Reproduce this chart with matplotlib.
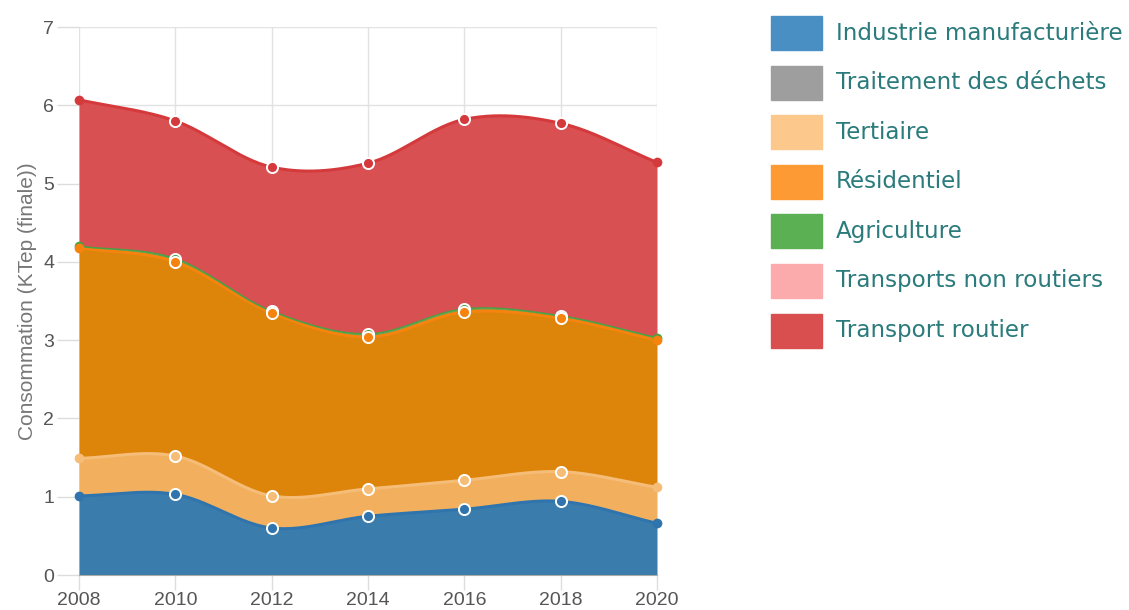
import numpy as np
import matplotlib.pyplot as plt
from matplotlib.patches import Rectangle

# Consommation d'énergie finale par secteur (KTep)
annees = [2008, 2010, 2012, 2014, 2016, 2018, 2020]
secteurs = ["Industrie manufacturière", "Traitement des déchets", "Tertiaire",
            "Résidentiel", "Agriculture", "Transports non routiers", "Transport routier"]
industrie = [1.01, 1.03, 0.60, 0.75, 0.84, 0.94, 0.66]
dechets = [0.0, 0.0, 0.0, 0.0, 0.0, 0.0, 0.0]
tertiaire = [0.48, 0.49, 0.41, 0.35, 0.37, 0.38, 0.46]
residentiel = [2.69, 2.48, 2.34, 1.94, 2.15, 1.96, 1.88]
agriculture = [0.02, 0.04, 0.02, 0.04, 0.04, 0.03, 0.03]
transports_nr = [0.0, 0.0, 0.0, 0.0, 0.0, 0.0, 0.0]
routier = [1.87, 1.76, 1.84, 2.18, 2.42, 2.46, 2.24]

fills = ["#3a7cab", "#999999", "#f2b05e", "#dd840b", "#5aae52", "#f7a8a8", "#d95052"]
lines = ["#2f74ad", "#8c8c8c", "#f5bd78", "#f7830f", "#4ea046", "#f59a9a", "#d43a3c"]
legend_cols = ["#4a8fc4", "#9e9e9e", "#fdc88b", "#fd9a33", "#5cb054", "#fbabab", "#d94f4f"]

plt.rcParams['font.family'] = ['Liberation Sans', 'DejaVu Sans']


def cardinal(x, y, n=30, tension=0.0):
    # spline cardinale (Catmull-Rom si tension = 0)
    x = np.asarray(x, float)
    y = np.asarray(y, float)
    m = np.zeros_like(y)
    m[1:-1] = (1 - tension) * (y[2:] - y[:-2]) / 2
    m[0] = (1 - tension) * (y[1] - y[0])
    m[-1] = (1 - tension) * (y[-1] - y[-2])
    xs, ys = [], []
    for i in range(len(x) - 1):
        t = np.linspace(0, 1, n, endpoint=(i == len(x) - 2))
        h00 = 2 * t**3 - 3 * t**2 + 1
        h10 = t**3 - 2 * t**2 + t
        h01 = -2 * t**3 + 3 * t**2
        h11 = t**3 - t**2
        xs.append(x[i] + t * (x[i + 1] - x[i]))
        ys.append(h00 * y[i] + h10 * m[i] + h01 * y[i + 1] + h11 * m[i + 1])
    return np.concatenate(xs), np.concatenate(ys)


fig = plt.figure(figsize=(11.29, 6.10), dpi=100)
ax = fig.add_axes([79 / 1129, 1 - 575 / 610, (657 - 79) / 1129, (575 - 27) / 610])

series = [industrie, dechets, tertiaire, residentiel, agriculture, transports_nr, routier]
cum = np.cumsum(np.array(series), axis=0)
base = np.zeros(len(annees))
for k in range(len(series)):
    xs, lo = cardinal(annees, base)
    _, hi = cardinal(annees, cum[k])
    ax.fill_between(xs, lo, hi, color=fills[k], lw=0, zorder=2 + k * 0.1)
    base = cum[k]

# lignes et points dessinés par-dessus les aires
# (les points de l'agriculture passent sous ceux du résidentiel)
for k in range(len(series)):
    if max(series[k]) == 0:
        continue
    xs, hi = cardinal(annees, cum[k])
    lw = 1.2 if k == 4 else 2.2
    zl = 4 + k * 0.1
    zm = 4.9 if k == 4 else 5 + k * 0.1
    ax.plot(xs, hi, color=lines[k], lw=lw, zorder=zl, solid_capstyle='round')
    ax.plot(annees[1:-1], cum[k][1:-1], 'o', ms=8, mfc=lines[k], mec='white', mew=1.4,
            zorder=zm)
    ax.plot([annees[0], annees[-1]], [cum[k][0], cum[k][-1]], 'o', ms=7, mfc=lines[k],
            mec=lines[k], mew=0, zorder=zm, clip_on=False)

ax.set_xlim(2008, 2020)
ax.set_ylim(0, 7)
ax.set_xticks(annees)
ax.set_yticks(range(8))
ax.grid(True, color='#e2e2e2', lw=1, zorder=0)
ax.set_axisbelow(True)
for s in ['top', 'right', 'left']:
    ax.spines[s].set_visible(False)
ax.spines['bottom'].set_color('#aaaaaa')
ax.tick_params(axis='both', colors='#dddddd', labelcolor='#555555', labelsize=14, width=1)
ax.tick_params(axis='x', length=11, pad=1)
ax.tick_params(axis='y', length=16, pad=2)
ax.set_ylabel("Consommation (KTep (finale))", color='#777777', fontsize=15, labelpad=4)

# légende
y0 = 33
for k, nom in enumerate(secteurs):
    yc = y0 + k * 49.6
    fig.patches.append(Rectangle((771 / 1129, 1 - (yc + 17) / 610), 51 / 1129, 34 / 610,
                                 transform=fig.transFigure, color=legend_cols[k]))
    fig.text(836 / 1129, 1 - yc / 610, nom, color='#2b7b7c', fontsize=16.6,
             va='center', ha='left', family=['DejaVu Sans'])

fig.savefig("out.png", dpi=100)
